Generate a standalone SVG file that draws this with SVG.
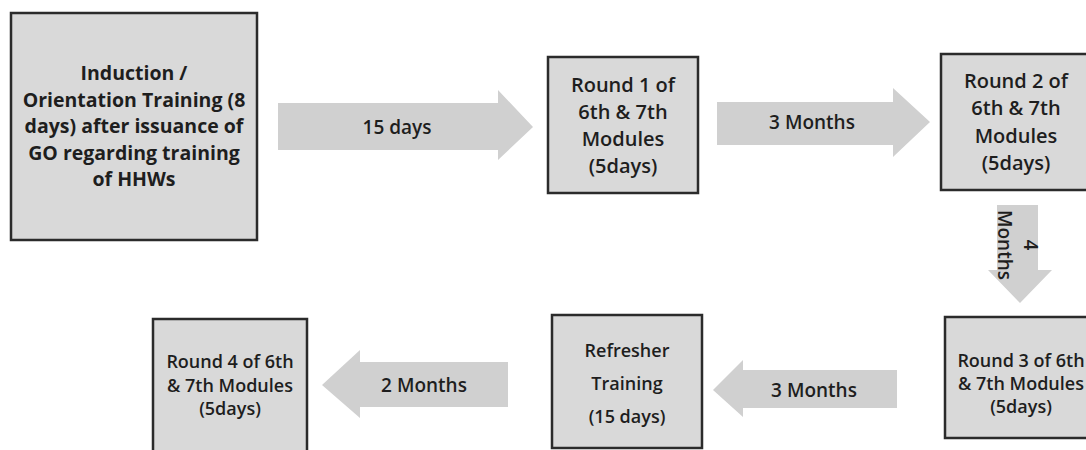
<svg xmlns="http://www.w3.org/2000/svg" width="1086" height="450" viewBox="0 0 1086 450">
<style>
.box{fill:#d9d9d9;stroke:#2b2b2b;stroke-width:2.5}
.arr{fill:#d0d0d0;stroke:none}
text{font-family:"Open Sans","Liberation Sans",sans-serif;font-weight:600;fill:#1e1e1e;text-anchor:middle}
.t19{font-size:19px}
.t20{font-size:20px}
.t18{font-size:18px}
.t21{font-size:19.5px;font-weight:700}
</style>
<rect width="1086" height="450" fill="#ffffff"/>
<g id="connectors">
<polygon class="arr" points="278,103 498,103 498,90 533,127 498,160 498,150 278,150"/>
<polygon class="arr" points="717,102 893,102 893,88 930,122 893,157 893,145 717,145"/>
<polygon class="arr" points="997,205 1038,205 1038,270 1052,270 1020,303 988,270 997,270"/>
<polygon class="arr" points="897,370 743,370 743,360 713,390 743,417 743,408 897,408"/>
<polygon class="arr" points="508,362 360,362 360,350 322,385 360,418 360,407 508,407"/>
<text class="t19" x="397" y="134">15 days</text>
<text class="t19" x="812" y="129">3 Months</text>
<text class="t19" x="814" y="397">3 Months</text>
<text class="t19" x="424" y="392">2 Months</text>
<text class="t19" transform="translate(1024,245) rotate(90)">4</text>
<text class="t19" transform="translate(998,245) rotate(90)">Months</text>
</g>
<g id="node-induction">
<rect class="box" x="11" y="13" width="246" height="227"/>
<text class="t21" x="134" y="80">Induction /</text>
<text class="t21" x="134" y="106.5">Orientation Training (8</text>
<text class="t21" x="134" y="133">days) after issuance of</text>
<text class="t21" x="134" y="159.5">GO regarding training</text>
<text class="t21" x="134" y="186">of HHWs</text>
</g>
<g id="node-round1">
<rect class="box" x="548" y="57" width="150" height="136"/>
<text class="t20" x="623" y="92">Round 1 of</text>
<text class="t20" x="623" y="119">6th &amp; 7th</text>
<text class="t20" x="623" y="146">Modules</text>
<text class="t20" x="623" y="173">(5days)</text>
</g>
<g id="node-round2">
<rect class="box" x="941" y="54" width="150" height="136"/>
<text class="t20" x="1016" y="88">Round 2 of</text>
<text class="t20" x="1016" y="115">6th &amp; 7th</text>
<text class="t20" x="1016" y="143">Modules</text>
<text class="t20" x="1016" y="170">(5days)</text>
</g>
<g id="node-round3">
<rect class="box" x="945" y="317" width="150" height="121"/>
<text class="t18" x="1021" y="367">Round 3 of 6th</text>
<text class="t18" x="1021" y="390">&amp; 7th Modules</text>
<text class="t18" x="1021" y="413">(5days)</text>
</g>
<g id="node-refresher">
<rect class="box" x="552" y="315" width="150" height="133"/>
<text class="t18" x="627" y="357">Refresher</text>
<text class="t18" x="627" y="390">Training</text>
<text class="t18" x="627" y="423">(15 days)</text>
</g>
<g id="node-round4">
<rect class="box" x="153" y="319" width="154" height="140"/>
<text class="t18" x="230" y="368">Round 4 of 6th</text>
<text class="t18" x="230" y="392">&amp; 7th Modules</text>
<text class="t18" x="230" y="415">(5days)</text>
</g>
</svg>
